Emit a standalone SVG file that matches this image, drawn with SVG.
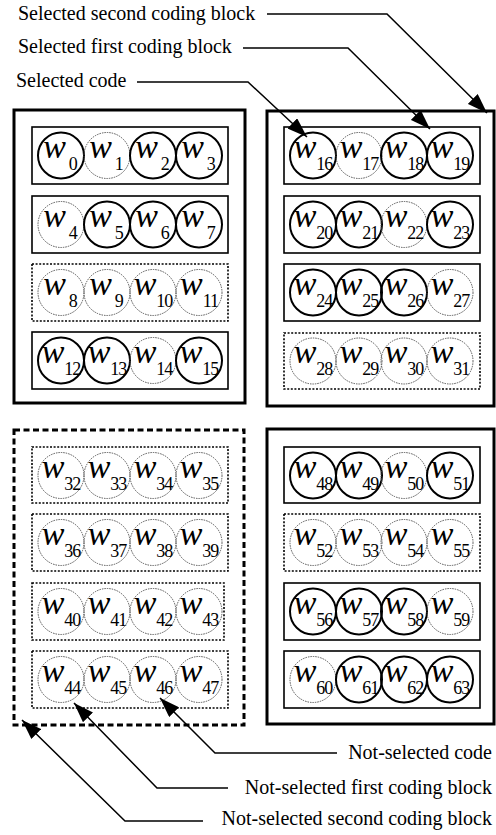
<svg xmlns="http://www.w3.org/2000/svg" width="496" height="835" viewBox="0 0 496 835">
<style>
.outer{fill:none;stroke:#000;stroke-width:3}
.outer-d{fill:none;stroke:#000;stroke-width:3;stroke-dasharray:6 3.5}
.row{fill:none;stroke:#000;stroke-width:1.6}
.row-d{fill:none;stroke:#000;stroke-width:1.6;stroke-dasharray:2 1.6}
.sel{fill:none;stroke:#000;stroke-width:2}
.ns{fill:none;stroke:#555;stroke-width:1;stroke-dasharray:1.5 1}
.w{font-family:"Liberation Serif","Times New Roman",serif;font-style:italic;font-size:34px;text-anchor:middle;fill:#000}
.s{font-style:normal;font-size:18px;letter-spacing:-1px}
.lbl{font-family:"Liberation Serif","Times New Roman",serif;font-size:20px;fill:#000}
.conn{fill:none;stroke:#000;stroke-width:1.5}
</style>
<defs>
<marker id="ah" viewBox="0 0 20 14" refX="20" refY="7" markerWidth="20" markerHeight="14" markerUnits="userSpaceOnUse" orient="auto">
<path d="M0,0 L20,7 L0,14 z" fill="#000"/>
</marker>
</defs>

<!-- Top-left second coding block (selected) -->
<g id="block-tl">
<rect class="outer" x="14" y="110" width="231" height="293"/>
<g id="row-0-3">
<rect class="row" x="32" y="127" width="196" height="57"/>
<g id="c0"><circle class="sel" cx="61" cy="155.5" r="23"/><text class="w" x="60" y="157.5">w<tspan class="s" dx="3" dy="12">0</tspan></text></g>
<g id="c1"><circle class="ns" cx="107" cy="155.5" r="23"/><text class="w" x="106" y="157.5">w<tspan class="s" dx="3" dy="12">1</tspan></text></g>
<g id="c2"><circle class="sel" cx="153" cy="155.5" r="23"/><text class="w" x="152" y="157.5">w<tspan class="s" dx="3" dy="12">2</tspan></text></g>
<g id="c3"><circle class="sel" cx="199" cy="155.5" r="23"/><text class="w" x="198" y="157.5">w<tspan class="s" dx="3" dy="12">3</tspan></text></g>
</g>
<g id="row-4-7">
<rect class="row" x="32" y="196" width="196" height="57"/>
<g id="c4"><circle class="ns" cx="61" cy="224.5" r="23"/><text class="w" x="60" y="226.5">w<tspan class="s" dx="3" dy="12">4</tspan></text></g>
<g id="c5"><circle class="sel" cx="107" cy="224.5" r="23"/><text class="w" x="106" y="226.5">w<tspan class="s" dx="3" dy="12">5</tspan></text></g>
<g id="c6"><circle class="sel" cx="153" cy="224.5" r="23"/><text class="w" x="152" y="226.5">w<tspan class="s" dx="3" dy="12">6</tspan></text></g>
<g id="c7"><circle class="sel" cx="199" cy="224.5" r="23"/><text class="w" x="198" y="226.5">w<tspan class="s" dx="3" dy="12">7</tspan></text></g>
</g>
<g id="row-8-11">
<rect class="row-d" x="32" y="264" width="196" height="57"/>
<g id="c8"><circle class="ns" cx="61" cy="292.5" r="23"/><text class="w" x="60" y="294.5">w<tspan class="s" dx="3" dy="12">8</tspan></text></g>
<g id="c9"><circle class="ns" cx="107" cy="292.5" r="23"/><text class="w" x="106" y="294.5">w<tspan class="s" dx="3" dy="12">9</tspan></text></g>
<g id="c10"><circle class="ns" cx="153" cy="292.5" r="23"/><text class="w" x="153" y="294.5">w<tspan class="s" dy="12">10</tspan></text></g>
<g id="c11"><circle class="ns" cx="199" cy="292.5" r="23"/><text class="w" x="199" y="294.5">w<tspan class="s" dy="12">11</tspan></text></g>
</g>
<g id="row-12-15">
<rect class="row" x="32" y="332" width="196" height="57"/>
<g id="c12"><circle class="sel" cx="61" cy="360.5" r="23"/><text class="w" x="61" y="362.5">w<tspan class="s" dy="12">12</tspan></text></g>
<g id="c13"><circle class="sel" cx="107" cy="360.5" r="23"/><text class="w" x="107" y="362.5">w<tspan class="s" dy="12">13</tspan></text></g>
<g id="c14"><circle class="ns" cx="153" cy="360.5" r="23"/><text class="w" x="153" y="362.5">w<tspan class="s" dy="12">14</tspan></text></g>
<g id="c15"><circle class="sel" cx="199" cy="360.5" r="23"/><text class="w" x="199" y="362.5">w<tspan class="s" dy="12">15</tspan></text></g>
</g>
</g>

<!-- Top-right second coding block (selected) -->
<g id="block-tr">
<rect class="outer" x="267" y="111" width="227" height="295"/>
<g id="row-16-19">
<rect class="row" x="284" y="127" width="196" height="57"/>
<g id="c16"><circle class="sel" cx="313" cy="155.5" r="23"/><text class="w" x="313" y="157.5">w<tspan class="s" dy="12">16</tspan></text></g>
<g id="c17"><circle class="ns" cx="359" cy="155.5" r="23"/><text class="w" x="359" y="157.5">w<tspan class="s" dy="12">17</tspan></text></g>
<g id="c18"><circle class="sel" cx="404" cy="155.5" r="23"/><text class="w" x="404" y="157.5">w<tspan class="s" dy="12">18</tspan></text></g>
<g id="c19"><circle class="sel" cx="450" cy="155.5" r="23"/><text class="w" x="450" y="157.5">w<tspan class="s" dy="12">19</tspan></text></g>
</g>
<g id="row-20-23">
<rect class="row" x="284" y="196" width="196" height="57"/>
<g id="c20"><circle class="sel" cx="313" cy="224.5" r="23"/><text class="w" x="313" y="226.5">w<tspan class="s" dy="12">20</tspan></text></g>
<g id="c21"><circle class="sel" cx="359" cy="224.5" r="23"/><text class="w" x="359" y="226.5">w<tspan class="s" dy="12">21</tspan></text></g>
<g id="c22"><circle class="ns" cx="404" cy="224.5" r="23"/><text class="w" x="404" y="226.5">w<tspan class="s" dy="12">22</tspan></text></g>
<g id="c23"><circle class="sel" cx="450" cy="224.5" r="23"/><text class="w" x="450" y="226.5">w<tspan class="s" dy="12">23</tspan></text></g>
</g>
<g id="row-24-27">
<rect class="row" x="284" y="264" width="196" height="57"/>
<g id="c24"><circle class="sel" cx="313" cy="292.5" r="23"/><text class="w" x="313" y="294.5">w<tspan class="s" dy="12">24</tspan></text></g>
<g id="c25"><circle class="sel" cx="359" cy="292.5" r="23"/><text class="w" x="359" y="294.5">w<tspan class="s" dy="12">25</tspan></text></g>
<g id="c26"><circle class="sel" cx="404" cy="292.5" r="23"/><text class="w" x="404" y="294.5">w<tspan class="s" dy="12">26</tspan></text></g>
<g id="c27"><circle class="ns" cx="450" cy="292.5" r="23"/><text class="w" x="450" y="294.5">w<tspan class="s" dy="12">27</tspan></text></g>
</g>
<g id="row-28-31">
<rect class="row-d" x="284" y="333" width="196" height="56"/>
<g id="c28"><circle class="ns" cx="313" cy="361" r="23"/><text class="w" x="313" y="363">w<tspan class="s" dy="12">28</tspan></text></g>
<g id="c29"><circle class="ns" cx="359" cy="361" r="23"/><text class="w" x="359" y="363">w<tspan class="s" dy="12">29</tspan></text></g>
<g id="c30"><circle class="ns" cx="404" cy="361" r="23"/><text class="w" x="404" y="363">w<tspan class="s" dy="12">30</tspan></text></g>
<g id="c31"><circle class="ns" cx="450" cy="361" r="23"/><text class="w" x="450" y="363">w<tspan class="s" dy="12">31</tspan></text></g>
</g>
</g>

<!-- Bottom-left second coding block (not selected) -->
<g id="block-bl">
<rect class="outer-d" x="14" y="430" width="230" height="295"/>
<g id="row-32-35">
<rect class="row-d" x="32" y="447" width="196" height="56"/>
<g id="c32"><circle class="ns" cx="61" cy="475.5" r="23"/><text class="w" x="61" y="477.5">w<tspan class="s" dy="12">32</tspan></text></g>
<g id="c33"><circle class="ns" cx="107" cy="475.5" r="23"/><text class="w" x="107" y="477.5">w<tspan class="s" dy="12">33</tspan></text></g>
<g id="c34"><circle class="ns" cx="153" cy="475.5" r="23"/><text class="w" x="153" y="477.5">w<tspan class="s" dy="12">34</tspan></text></g>
<g id="c35"><circle class="ns" cx="199" cy="475.5" r="23"/><text class="w" x="199" y="477.5">w<tspan class="s" dy="12">35</tspan></text></g>
</g>
<g id="row-36-39">
<rect class="row-d" x="32" y="514" width="196" height="57"/>
<g id="c36"><circle class="ns" cx="61" cy="542.5" r="23"/><text class="w" x="61" y="544.5">w<tspan class="s" dy="12">36</tspan></text></g>
<g id="c37"><circle class="ns" cx="107" cy="542.5" r="23"/><text class="w" x="107" y="544.5">w<tspan class="s" dy="12">37</tspan></text></g>
<g id="c38"><circle class="ns" cx="153" cy="542.5" r="23"/><text class="w" x="153" y="544.5">w<tspan class="s" dy="12">38</tspan></text></g>
<g id="c39"><circle class="ns" cx="199" cy="542.5" r="23"/><text class="w" x="199" y="544.5">w<tspan class="s" dy="12">39</tspan></text></g>
</g>
<g id="row-40-43">
<rect class="row-d" x="32" y="583" width="192" height="57"/>
<g id="c40"><circle class="ns" cx="61" cy="611.5" r="23"/><text class="w" x="61" y="613.5">w<tspan class="s" dy="12">40</tspan></text></g>
<g id="c41"><circle class="ns" cx="107" cy="611.5" r="23"/><text class="w" x="107" y="613.5">w<tspan class="s" dy="12">41</tspan></text></g>
<g id="c42"><circle class="ns" cx="153" cy="611.5" r="23"/><text class="w" x="153" y="613.5">w<tspan class="s" dy="12">42</tspan></text></g>
<g id="c43"><circle class="ns" cx="199" cy="611.5" r="23"/><text class="w" x="199" y="613.5">w<tspan class="s" dy="12">43</tspan></text></g>
</g>
<g id="row-44-47">
<rect class="row-d" x="32" y="651" width="196" height="57"/>
<g id="c44"><circle class="ns" cx="61" cy="679.5" r="23"/><text class="w" x="61" y="681.5">w<tspan class="s" dy="12">44</tspan></text></g>
<g id="c45"><circle class="ns" cx="107" cy="679.5" r="23"/><text class="w" x="107" y="681.5">w<tspan class="s" dy="12">45</tspan></text></g>
<g id="c46"><circle class="ns" cx="153" cy="679.5" r="23"/><text class="w" x="153" y="681.5">w<tspan class="s" dy="12">46</tspan></text></g>
<g id="c47"><circle class="ns" cx="199" cy="679.5" r="23"/><text class="w" x="199" y="681.5">w<tspan class="s" dy="12">47</tspan></text></g>
</g>
</g>

<!-- Bottom-right second coding block (selected) -->
<g id="block-br">
<rect class="outer" x="267" y="429" width="227" height="295"/>
<g id="row-48-51">
<rect class="row" x="284" y="447" width="196" height="56"/>
<g id="c48"><circle class="sel" cx="313" cy="475.5" r="23"/><text class="w" x="313" y="477.5">w<tspan class="s" dy="12">48</tspan></text></g>
<g id="c49"><circle class="sel" cx="359" cy="475.5" r="23"/><text class="w" x="359" y="477.5">w<tspan class="s" dy="12">49</tspan></text></g>
<g id="c50"><circle class="ns" cx="404" cy="475.5" r="23"/><text class="w" x="404" y="477.5">w<tspan class="s" dy="12">50</tspan></text></g>
<g id="c51"><circle class="sel" cx="450" cy="475.5" r="23"/><text class="w" x="450" y="477.5">w<tspan class="s" dy="12">51</tspan></text></g>
</g>
<g id="row-52-55">
<rect class="row-d" x="284" y="514" width="196" height="57"/>
<g id="c52"><circle class="ns" cx="313" cy="542.5" r="23"/><text class="w" x="313" y="544.5">w<tspan class="s" dy="12">52</tspan></text></g>
<g id="c53"><circle class="ns" cx="359" cy="542.5" r="23"/><text class="w" x="359" y="544.5">w<tspan class="s" dy="12">53</tspan></text></g>
<g id="c54"><circle class="ns" cx="404" cy="542.5" r="23"/><text class="w" x="404" y="544.5">w<tspan class="s" dy="12">54</tspan></text></g>
<g id="c55"><circle class="ns" cx="450" cy="542.5" r="23"/><text class="w" x="450" y="544.5">w<tspan class="s" dy="12">55</tspan></text></g>
</g>
<g id="row-56-59">
<rect class="row" x="284" y="583" width="196" height="57"/>
<g id="c56"><circle class="sel" cx="313" cy="611.5" r="23"/><text class="w" x="313" y="613.5">w<tspan class="s" dy="12">56</tspan></text></g>
<g id="c57"><circle class="sel" cx="359" cy="611.5" r="23"/><text class="w" x="359" y="613.5">w<tspan class="s" dy="12">57</tspan></text></g>
<g id="c58"><circle class="sel" cx="404" cy="611.5" r="23"/><text class="w" x="404" y="613.5">w<tspan class="s" dy="12">58</tspan></text></g>
<g id="c59"><circle class="ns" cx="450" cy="611.5" r="23"/><text class="w" x="450" y="613.5">w<tspan class="s" dy="12">59</tspan></text></g>
</g>
<g id="row-60-63">
<rect class="row" x="284" y="651" width="196" height="57"/>
<g id="c60"><circle class="ns" cx="313" cy="679.5" r="23"/><text class="w" x="313" y="681.5">w<tspan class="s" dy="12">60</tspan></text></g>
<g id="c61"><circle class="sel" cx="359" cy="679.5" r="23"/><text class="w" x="359" y="681.5">w<tspan class="s" dy="12">61</tspan></text></g>
<g id="c62"><circle class="sel" cx="404" cy="679.5" r="23"/><text class="w" x="404" y="681.5">w<tspan class="s" dy="12">62</tspan></text></g>
<g id="c63"><circle class="sel" cx="450" cy="679.5" r="23"/><text class="w" x="450" y="681.5">w<tspan class="s" dy="12">63</tspan></text></g>
</g>
</g>

<!-- Labels -->
<g id="label-sel-second"><text class="lbl" x="18" y="20">Selected second coding block</text></g>
<g id="label-sel-first"><text class="lbl" x="18" y="53">Selected first coding block</text></g>
<g id="label-sel-code"><text class="lbl" x="16" y="87">Selected code</text></g>
<g id="label-ns-code"><text class="lbl" x="492" y="759" text-anchor="end">Not-selected code</text></g>
<g id="label-ns-first"><text class="lbl" x="492" y="794" text-anchor="end">Not-selected first coding block</text></g>
<g id="label-ns-second"><text class="lbl" x="492" y="825" text-anchor="end">Not-selected second coding block</text></g>

<!-- Connectors -->
<g id="connectors">
<polyline class="conn" points="267,14 387,14 487,113" marker-end="url(#ah)"/>
<polyline class="conn" points="243,48 348,48 430,129" marker-end="url(#ah)"/>
<polyline class="conn" points="137,82 248,82 307,137" marker-end="url(#ah)"/>
<polyline class="conn" points="337,753 215,753 160,698" marker-end="url(#ah)"/>
<polyline class="conn" points="228,788 157,788 74,703" marker-end="url(#ah)"/>
<polyline class="conn" points="203,821 125,821 22,720" marker-end="url(#ah)"/>
</g>
</svg>
